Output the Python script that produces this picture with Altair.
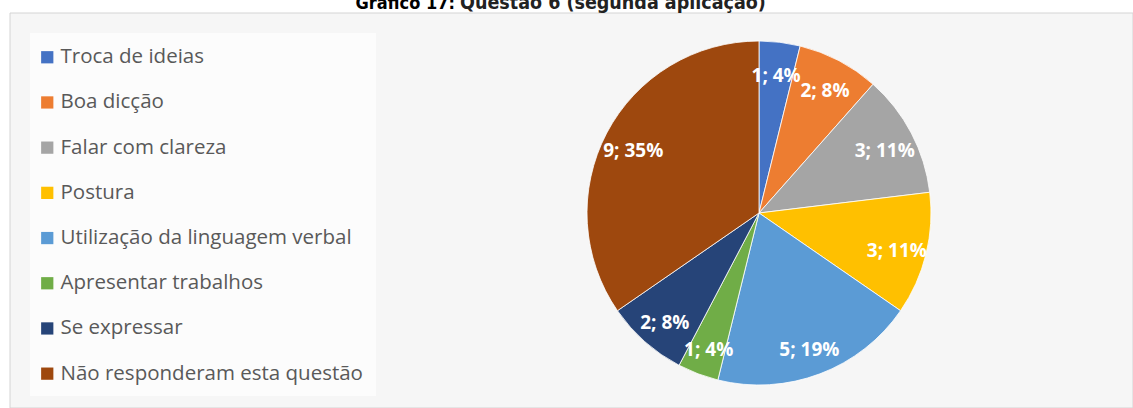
import altair as alt
import pandas as pd

categories = ["Troca de ideias", "Boa dicção", "Falar com clareza", "Postura",
              "Utilização da linguagem verbal", "Apresentar trabalhos",
              "Se expressar", "Não responderam esta questão"]
counts = [1, 2, 3, 3, 5, 1, 2, 9]
percents = ["4%", "8%", "11%", "11%", "19%", "4%", "8%", "35%"]
colors = ["#4472C4", "#ED7D31", "#A5A5A5", "#FFC000", "#5B9BD5", "#70AD47", "#264478", "#9E480E"]
title_bold = "Gráfico 17:"
title_rest = "Questão 6 (segunda aplicação)"

df = pd.DataFrame({
    "categoria": categories,
    "n": counts,
    "idx": list(range(len(categories))),
    "rotulo": [f"{c}; {p}" for c, p in zip(counts, percents)],
})

W, H = 1133, 408
CX, CY, R = 759, 213, 172

base = alt.Chart(df)

frame = base.mark_rect(fill="#f6f6f6", stroke="#d4d4d4", strokeWidth=1).encode(
    x=alt.value(10), x2=alt.value(1133), y=alt.value(13), y2=alt.value(408)
).transform_filter("datum.idx == 0")

legend_box = base.mark_rect(fill="#fcfcfc").encode(
    x=alt.value(30), x2=alt.value(376), y=alt.value(33), y2=alt.value(396)
).transform_filter("datum.idx == 0")

pie = base.mark_arc(outerRadius=R, stroke="white", strokeWidth=0.8).encode(
    theta=alt.Theta("n:Q", stack=True),
    order=alt.Order("idx:Q", sort="ascending"),
    color=alt.Color("categoria:N",
                    scale=alt.Scale(domain=categories, range=colors),
                    sort=categories,
                    legend=alt.Legend(
                        title=None, orient="none", legendX=37, legendY=47,
                        symbolType="square", symbolSize=150, symbolStrokeWidth=0,
                        labelFontSize=20.5, labelFont="Open Sans", labelColor="#595959",
                        labelLimit=400, rowPadding=24.2, labelOffset=3,
                        symbolOpacity=1)),
    x=alt.value(CX), y=alt.value(CY),
)

labels = base.mark_text(radius=142, font="Open Sans", fontWeight="bold", fontSize=19,
                        color="white").encode(
    theta=alt.Theta("n:Q", stack=True),
    order=alt.Order("idx:Q", sort="ascending"),
    text="rotulo:N",
    x=alt.value(CX), y=alt.value(CY + 4),
)

t1 = base.mark_text(font="DejaVu Sans Condensed", fontWeight="bold", fontSize=18,
                    align="right", baseline="alphabetic", color="black").encode(
    x=alt.value(455), y=alt.value(9), text=alt.value(title_bold)
).transform_filter("datum.idx == 0")

t2 = base.mark_text(font="DejaVu Sans Condensed", fontWeight="bold", fontSize=19.5,
                    align="left", baseline="alphabetic", color="#222222").encode(
    x=alt.value(460), y=alt.value(9), text=alt.value(title_rest)
).transform_filter("datum.idx == 0")

chart = alt.layer(frame, legend_box, pie, labels, t1, t2).properties(
    width=W, height=H, padding=0, autosize=alt.AutoSizeParams(type="none"),
    background="white"
).configure_view(stroke=None)

chart.save("out.html", embed_options={"renderer": "svg", "actions": False})
